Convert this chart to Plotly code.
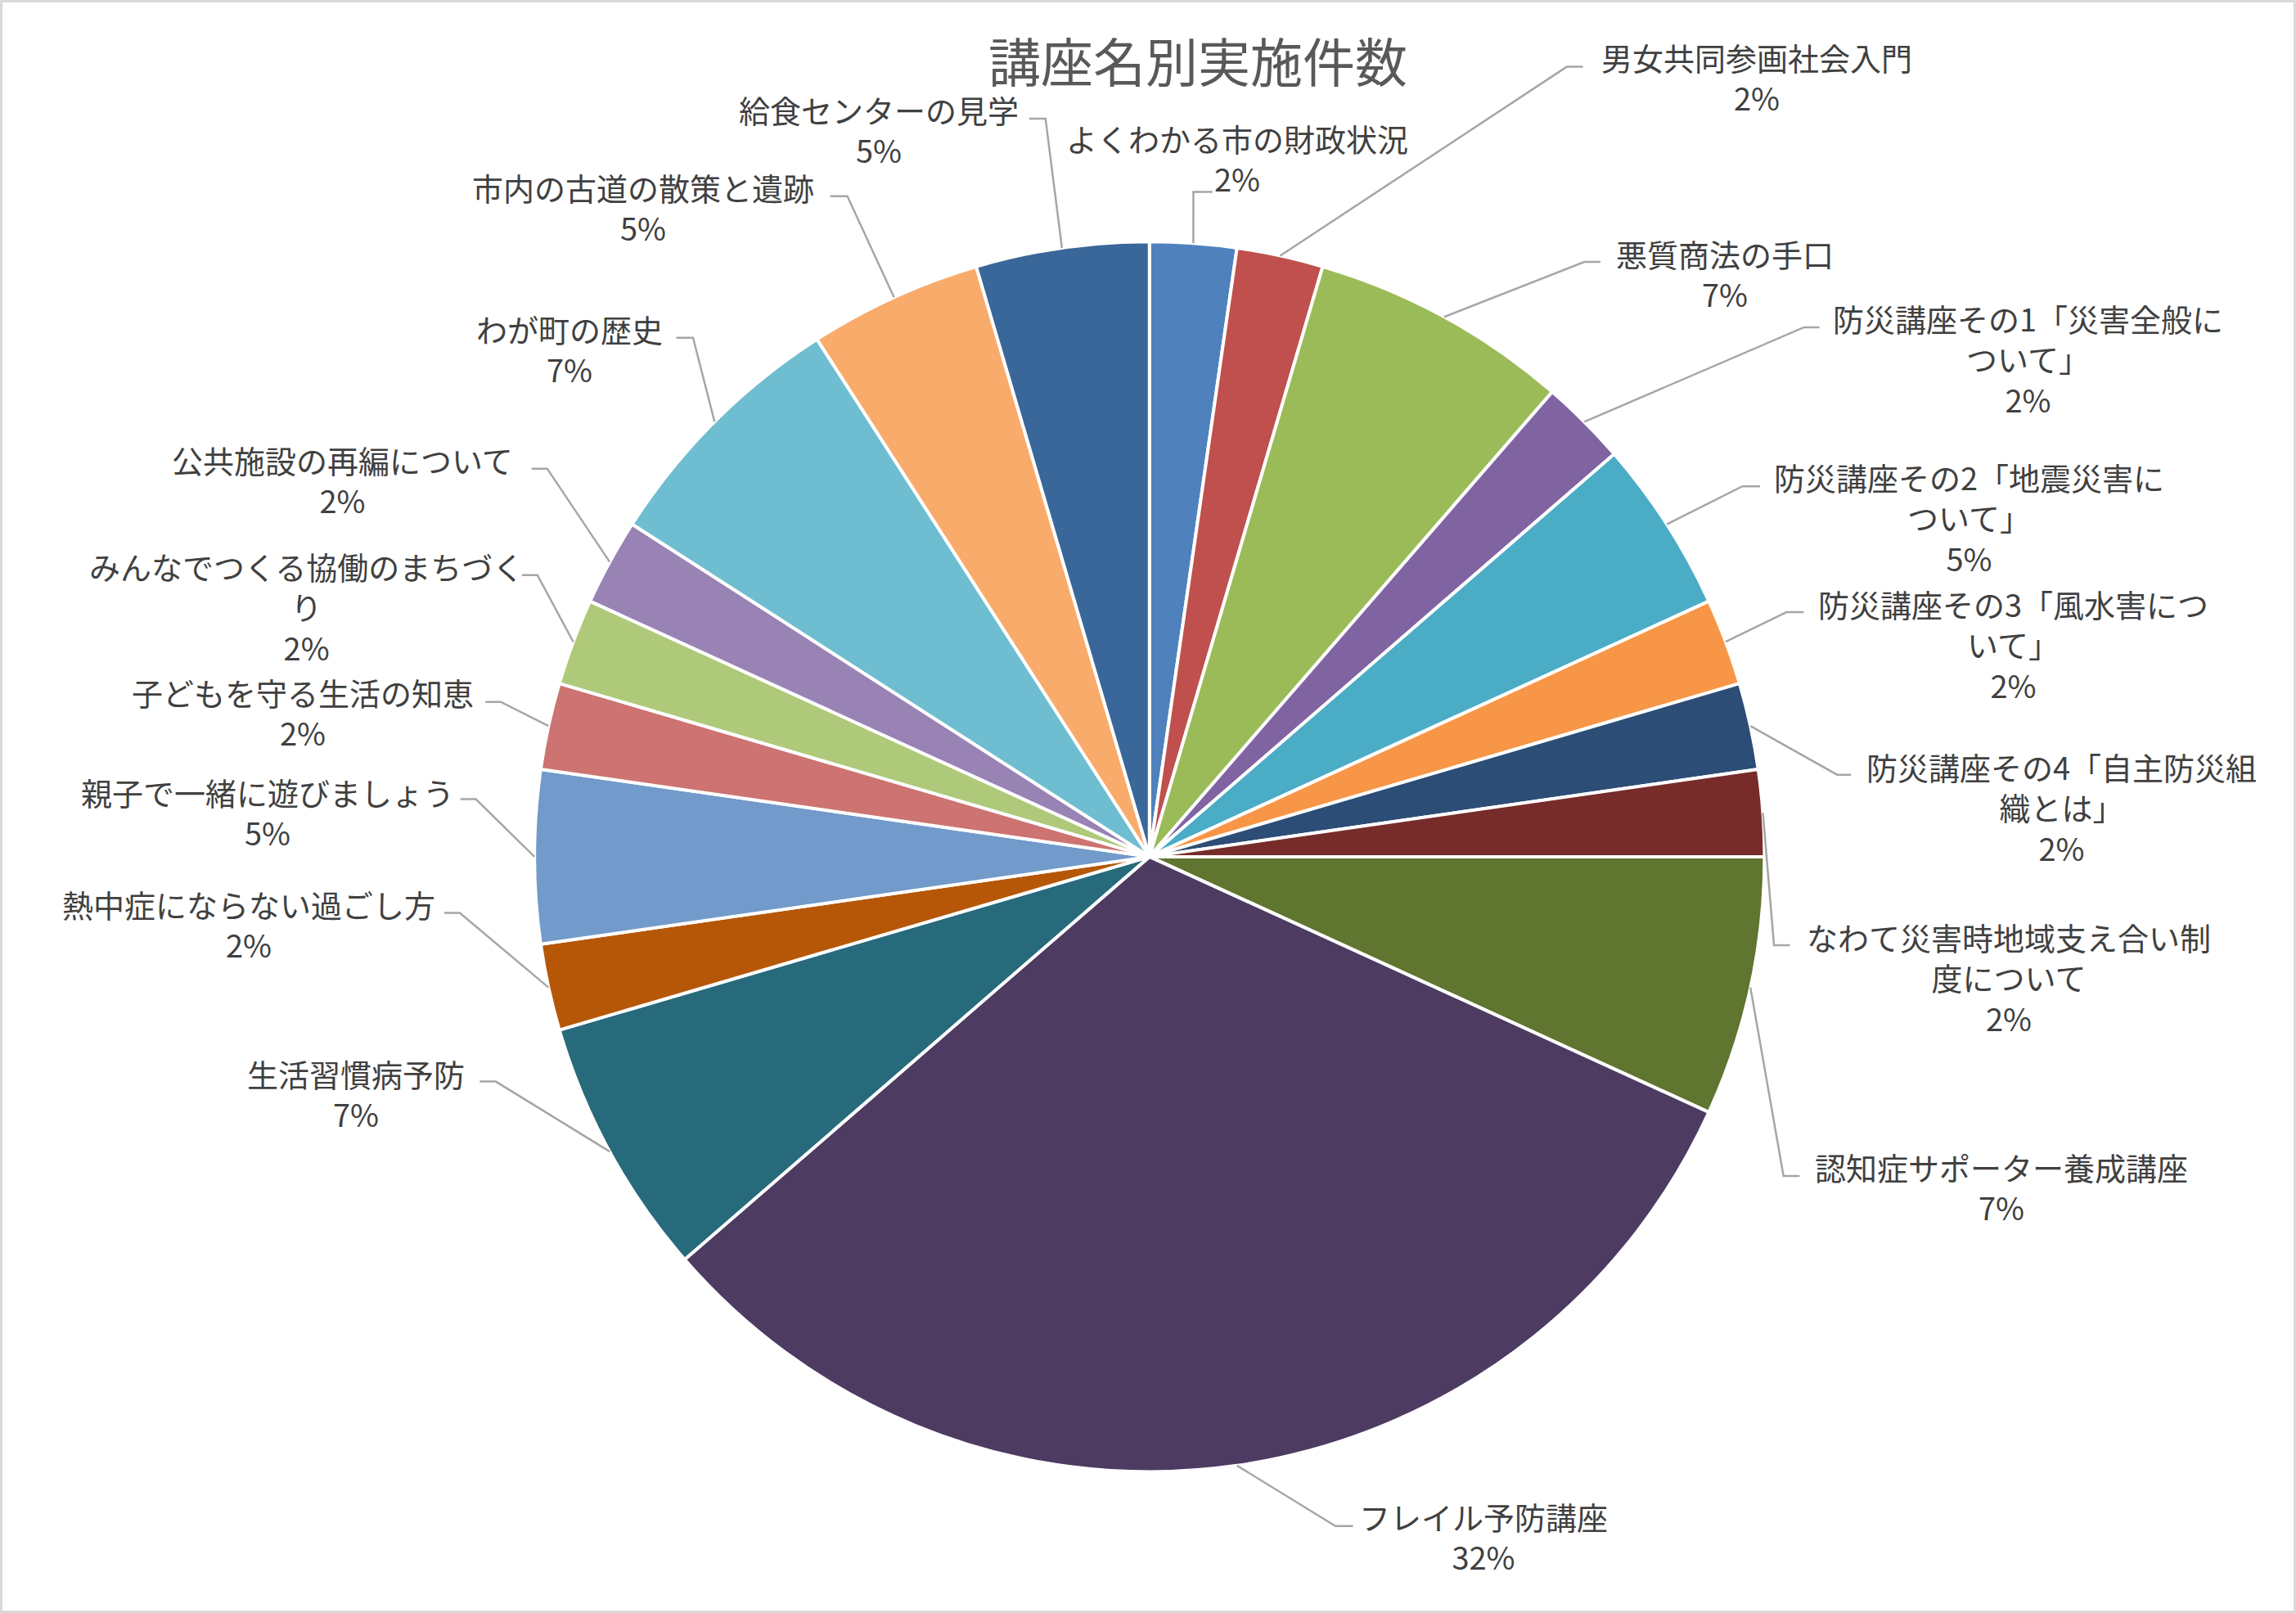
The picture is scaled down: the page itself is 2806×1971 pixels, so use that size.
import math
import plotly.graph_objects as go

# ---------------- data ----------------
categories = [
    "よくわかる市の財政状況",
    "男女共同参画社会入門",
    "悪質商法の手口",
    "防災講座その1「災害全般について」",
    "防災講座その2「地震災害について」",
    "防災講座その3「風水害について」",
    "防災講座その4「自主防災組織とは」",
    "なわて災害時地域支え合い制度について",
    "認知症サポーター養成講座",
    "フレイル予防講座",
    "生活習慣病予防",
    "熱中症にならない過ごし方",
    "親子で一緒に遊びましょう",
    "子どもを守る生活の知恵",
    "みんなでつくる協働のまちづくり",
    "公共施設の再編について",
    "わが町の歴史",
    "市内の古道の散策と遺跡",
    "給食センターの見学",
]
counts = [1, 1, 3, 1, 2, 1, 1, 1, 3, 14, 3, 1, 2, 1, 1, 1, 3, 2, 2]

# label text as wrapped in the chart
label_lines = [
    "よくわかる市の財政状況",
    "男女共同参画社会入門",
    "悪質商法の手口",
    "防災講座その1「災害全般に<br>ついて」",
    "防災講座その2「地震災害に<br>ついて」",
    "防災講座その3「風水害につ<br>いて」",
    "防災講座その4「自主防災組<br>織とは」",
    "なわて災害時地域支え合い制<br>度について",
    "認知症サポーター養成講座",
    "フレイル予防講座",
    "生活習慣病予防",
    "熱中症にならない過ごし方",
    "親子で一緒に遊びましょう",
    "子どもを守る生活の知恵",
    "みんなでつくる協働のまちづく<br>り",
    "公共施設の再編について",
    "わが町の歴史",
    "市内の古道の散策と遺跡",
    "給食センターの見学",
]

title_text = "講座名別実施件数"

# ---------------- styles ----------------
colors = [
    "#4F81BD", "#C0504D", "#9BBB59", "#8064A2", "#4BACC6", "#F79646",
    "#2C4D75", "#772C2A", "#5F7530", "#4D3B62", "#276A7C", "#B65708",
    "#729ACA", "#CD7371", "#AFC97A", "#9983B5", "#6FBDD1", "#F9AB6B",
    "#3A6799",
]

W, H = 2806, 1971
S = W / 1568.0  # reference-display to full-size scale

# pie geometry (full-size pixels)
CX, CY, R = 785 * S, 585 * S, 420 * S

# label block centres (reference display coords)
label_pos = [
    (845, 108), (1200, 52.5), (1178, 186.5), (1385, 245), (1345, 353),
    (1375, 440), (1408, 551), (1372, 667), (1367, 810.5), (1013, 1049),
    (243, 746.5), (170, 631), (183, 554.5), (207, 486), (209, 414),
    (234, 327.5), (389, 238), (439, 141.5), (600, 88.5),
]
# leader line bend and end points (reference display coords)
leader_pts = [
    ((815, 131), (828, 131)),
    ((1070, 45.6), (1081, 45.6)),
    ((1082, 178.8), (1093, 178.8)),
    ((1232, 223.5), (1242.5, 223.5)),
    ((1190, 332), (1202, 332)),
    ((1220, 418), (1231.8, 418)),
    ((1254.6, 529), (1264, 529)),
    ((1211.5, 645.4), (1222.3, 645.4)),
    ((1218, 803), (1229, 803)),
    ((912, 1042), (924, 1042)),
    ((338.6, 738.5), (327.7, 738.5)),
    ((314, 623.4), (303.4, 623.4)),
    ((325, 545.7), (314.4, 545.7)),
    ((342, 479.3), (331.5, 479.3)),
    ((367, 392.7), (356.5, 392.7)),
    ((373.7, 320), (363, 320)),
    ((473.3, 230.6), (461.8, 230.6)),
    ((578.7, 134), (567, 134)),
    ((714, 81), (702.8, 81)),
]


def px(x, y):
    return x / W, 1 - y / H


fig = go.Figure()
fig.add_trace(go.Pie(
    labels=categories,
    values=counts,
    sort=False,
    direction="clockwise",
    rotation=0,
    marker=dict(colors=colors, line=dict(color="#FFFFFF", width=4)),
    textinfo="none",
    hoverinfo="label+value+percent",
    showlegend=False,
    domain=dict(x=[(CX - R) / W, (CX + R) / W],
                y=[1 - (CY + R) / H, 1 - (CY - R) / H]),
))

total = sum(counts)
annotations = []
shapes = []
cum = 0
for i, v in enumerate(counts):
    mid = (cum + v / 2) / total * 2 * math.pi
    cum += v
    ex = CX + R * math.sin(mid)
    ey = CY - R * math.cos(mid)
    (bx, by), (tx, ty) = leader_pts[i]
    p0 = px(ex, ey)
    p1 = px(bx * S, by * S)
    p2 = px(tx * S, ty * S)
    shapes.append(dict(
        type="path", xref="paper", yref="paper",
        path=f"M {p0[0]},{p0[1]} L {p1[0]},{p1[1]} L {p2[0]},{p2[1]}",
        line=dict(color="#A6A6A6", width=2.5),
    ))
    pct = round(v / total * 100)
    lx, ly = label_pos[i]
    ax, ay = px(lx * S, ly * S)
    annotations.append(dict(
        x=ax, y=ay, xref="paper", yref="paper",
        text=f"{label_lines[i]}<br>{pct}%",
        showarrow=False, xanchor="center", yanchor="middle", align="center",
        font=dict(family="Noto Sans CJK JP", size=38, color="#404040"),
    ))

tx_, ty_ = px(818 * S, 40 * S)
annotations.append(dict(
    x=tx_, y=ty_, xref="paper", yref="paper", text=title_text,
    showarrow=False, xanchor="center", yanchor="middle",
    font=dict(family="Noto Sans CJK JP", size=64, color="#595959"),
))

shapes.append(dict(
    type="rect", xref="paper", yref="paper",
    x0=1.5 / W, y0=1.5 / H, x1=1 - 1.5 / W, y1=1 - 1.5 / H,
    line=dict(color="#D9D9D9", width=3),
))

fig.update_layout(
    width=W, height=H,
    margin=dict(l=0, r=0, t=0, b=0),
    paper_bgcolor="#FFFFFF",
    plot_bgcolor="#FFFFFF",
    annotations=annotations,
    shapes=shapes,
    font=dict(family="Noto Sans CJK JP"),
)

fig.write_html(
    "out.html",
    config={"displayModeBar": False},
    post_script="document.body.style.margin='0';document.body.style.overflow='hidden';",
)
